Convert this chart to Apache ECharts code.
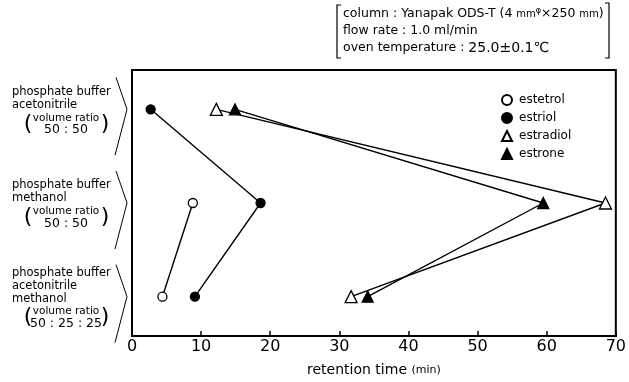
<!DOCTYPE html>
<html>
<head>
<meta charset="utf-8">
<script src="https://cdn.jsdelivr.net/npm/echarts@6/dist/echarts.min.js"></script>
<style>
  html, body { margin: 0; padding: 0; background: #fff; }
  #main { width: 629px; height: 382px; }
</style>
</head>
<body>
<div id="main"></div>
<script>
// 行（溶媒条件）: 0 = 上, 1 = 中, 2 = 下
var rowIndex = [0, 1, 2];
var solventLines = [
  ['phosphate buffer', 'acetonitrile'],
  ['phosphate buffer', 'methanol'],
  ['phosphate buffer', 'acetonitrile', 'methanol']
];
var volumeRatios = ['50 : 50', '50 : 50', '50 : 25 : 25'];

// 保持時間 (min)
var estetrol = [null, 8.8, 4.4];
var estriol = [2.7, 18.6, 9.1];
var estradiol = [12.2, 68.5, 31.7];
var estrone = [14.9, 59.5, 34.1];

var xTicks = [0, 10, 20, 30, 40, 50, 60, 70];

var FONT = 'DejaVu Sans';

function toPoints(values) {
  var pts = [];
  for (var i = 0; i < values.length; i++) {
    if (values[i] != null) pts.push([values[i], rowIndex[i]]);
  }
  return pts;
}

function makeSeries(name, values, symbol, size, filled) {
  return {
    name: name,
    type: 'line',
    data: toPoints(values),
    symbol: symbol,
    symbolSize: size,
    showSymbol: true,
    lineStyle: { color: '#000', width: 1.4 },
    itemStyle: {
      color: filled ? '#000' : '#fff',
      borderColor: '#000',
      borderWidth: 1.3
    },
    emphasis: { disabled: true }
  };
}

var chart = echarts.init(document.getElementById('main'));

chart.setOption({
  animation: false,
  backgroundColor: '#fff',
  textStyle: { fontFamily: FONT, color: '#000' },
  grid: {
    left: 132, right: 10, top: 70, bottom: 36,
    show: true, borderColor: '#000', borderWidth: 2
  },
  legend: {
    orient: 'vertical',
    left: 496,
    top: 89,
    itemWidth: 10,
    itemHeight: 10,
    itemGap: 6,
    selectedMode: false,
    textStyle: { fontFamily: FONT, fontSize: 12, color: '#000', padding: [0, 0, 0, 2] },
    data: [
      { name: 'estetrol', icon: 'circle' },
      { name: 'estriol', icon: 'circle' },
      { name: 'estradiol', icon: 'triangle' },
      { name: 'estrone', icon: 'triangle' }
    ]
  },
  xAxis: {
    type: 'value',
    min: xTicks[0],
    max: xTicks[xTicks.length - 1],
    interval: 10,
    name: 'retention time {s|(min)}',
    nameLocation: 'middle',
    nameGap: 27,
    nameTextStyle: {
      fontFamily: FONT, fontSize: 14, color: '#000',
      rich: { s: { fontFamily: FONT, fontSize: 11, color: '#000' } }
    },
    axisLine: { onZero: false, lineStyle: { color: '#000', width: 2 } },
    axisTick: { inside: true, length: 5, lineStyle: { color: '#000', width: 1.5 } },
    axisLabel: { fontFamily: FONT, fontSize: 16, color: '#000', margin: 3 },
    splitLine: { show: false }
  },
  yAxis: {
    type: 'value',
    inverse: true,
    min: -0.42,
    max: 2.42,
    axisLine: { show: true, onZero: false, lineStyle: { color: '#000', width: 2 } },
    axisTick: { show: false },
    axisLabel: { show: false },
    splitLine: { show: false }
  },
  series: [
    makeSeries('estetrol', estetrol, 'circle', 9, false),
    makeSeries('estriol', estriol, 'circle', 9, true),
    makeSeries('estradiol', estradiol, 'triangle', 12, false),
    makeSeries('estrone', estrone, 'triangle', 11, true)
  ]
});

// 左側の溶媒ラベルと「>」形の括弧、右上の条件欄
var graphics = [];
var lineH = 13;
for (var r = 0; r < rowIndex.length; r++) {
  var yc = chart.convertToPixel({ gridIndex: 0 }, [0, rowIndex[r]])[1];
  var lines = solventLines[r];
  var n = lines.length + 2;
  var y0 = yc - (n - 1) * lineH / 2 + 2;
  for (var k = 0; k < lines.length; k++) {
    graphics.push({
      type: 'text', x: 12, y: y0 + k * lineH,
      style: { text: lines[k], font: '11.5px "' + FONT + '"', fill: '#000', verticalAlign: 'middle' }
    });
  }
  var yr = y0 + lines.length * lineH;
  graphics.push({
    type: 'text', x: 66, y: yr,
    style: { text: 'volume ratio', font: '10.5px "' + FONT + '"', fill: '#000', align: 'center', verticalAlign: 'middle' }
  });
  graphics.push({
    type: 'text', x: 66, y: yr + lineH - 1,
    style: { text: volumeRatios[r], font: '12.5px "' + FONT + '"', fill: '#000', align: 'center', verticalAlign: 'middle' }
  });
  graphics.push({
    type: 'text', x: 28, y: yr + 6,
    style: { text: '(', font: '22px "' + FONT + '"', fill: '#000', align: 'center', verticalAlign: 'middle' }
  });
  graphics.push({
    type: 'text', x: 105, y: yr + 6,
    style: { text: ')', font: '22px "' + FONT + '"', fill: '#000', align: 'center', verticalAlign: 'middle' }
  });
  graphics.push({
    type: 'polyline',
    shape: { points: [[116, yc - 32], [127, yc], [115, yc + 46]] },
    style: { stroke: '#000', lineWidth: 1, fill: null }
  });
}

graphics.push({
  type: 'text', x: 343, y: 14,
  style: {
    text: 'column : Yanapak ODS-T (4 {m|mm}{u|φ}×250 {m|mm})',
    font: '12.5px "' + FONT + '"', fill: '#000', verticalAlign: 'middle',
    rich: {
      m: { fontFamily: FONT, fontSize: 10, fill: '#000' },
      u: { fontFamily: FONT, fontSize: 8, fill: '#000', verticalAlign: 'top', padding: [0, 0, 6, 0] }
    }
  }
});
graphics.push({
  type: 'text', x: 343, y: 31,
  style: { text: 'flow rate : 1.0 ml/min', font: '12.5px "' + FONT + '"', fill: '#000', verticalAlign: 'middle' }
});
graphics.push({
  type: 'text', x: 343, y: 48,
  style: {
    text: 'oven temperature : {b|25.0±0.1℃}',
    font: '12.5px "' + FONT + '"', fill: '#000', verticalAlign: 'middle',
    rich: { b: { fontFamily: FONT, fontSize: 14, fill: '#000' } }
  }
});
graphics.push({
  type: 'polyline',
  shape: { points: [[341, 5], [337, 5], [337, 58], [341, 58]] },
  style: { stroke: '#000', lineWidth: 1.2, fill: null }
});
graphics.push({
  type: 'polyline',
  shape: { points: [[605, 3], [609, 3], [609, 58], [605, 58]] },
  style: { stroke: '#000', lineWidth: 1.2, fill: null }
});

chart.setOption({ graphic: graphics });
</script>
</body>
</html>
